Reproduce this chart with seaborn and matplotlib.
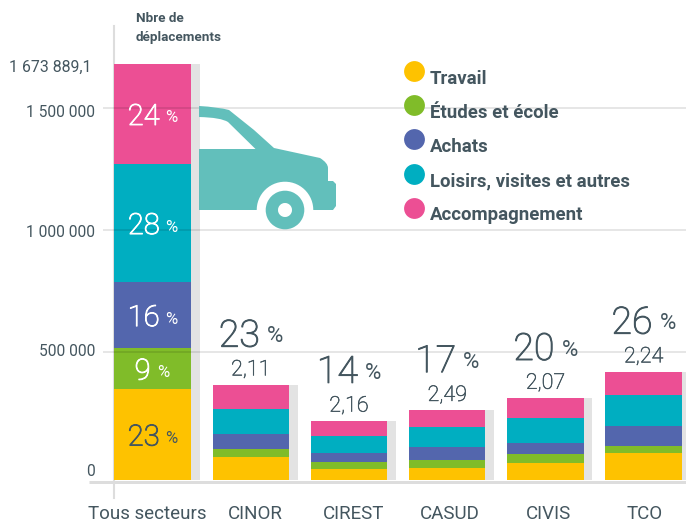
import numpy as np
import matplotlib
matplotlib.use("Agg")
import matplotlib.pyplot as plt
import matplotlib.patheffects as pe
import seaborn as sns
from matplotlib.lines import Line2D
from matplotlib.patches import PathPatch, Wedge
from matplotlib.path import Path
from matplotlib.transforms import Affine2D, ScaledTranslation

sns.set_theme(style="white")
plt.rcParams["font.family"] = ["Roboto", "DejaVu Sans"]

# ---- data ----
sectors = ["Tous secteurs", "CINOR", "CIREST", "CASUD", "CIVIS", "TCO"]
motifs = ["Travail", "Études et école", "Achats", "Loisirs, visites et autres", "Accompagnement"]
travail = [366000, 92600, 44000, 48000, 68000, 109000]
etudes = [165000, 32000, 28000, 32000, 36000, 28000]
achats = [265000, 60000, 36000, 52000, 43000, 80000]
loisirs = [476000, 101000, 70000, 80000, 102000, 124000]
accompagnement = [401889, 97000, 59000, 68000, 80000, 94000]
part_secteur = ["23", "14", "17", "20", "26"]
taux = ["2,11", "2,16", "2,49", "2,07", "2,24"]
part_motif = ["23", "9", "16", "28", "24"]
total_label = "1 673 889,1"
ytick_labels = ["0", "500 000", "1 000 000", "1 500 000"]
ytick_values = [0, 515000, 1006000, 1497000]

# ---- style ----
colors = ["#fec200", "#80bc29", "#5366ad", "#00aec1", "#ec4f94"]
ink = "#44565f"
shadow = "#e3e3e3"
rule = "#dddddd"
car_color = "#62bfbb"
W, H = 686, 523
LEFT, TOP, BOTTOM = 103, 26, 498
ZERO_Y = 480
PX_VALUE = 4024.0
STEP = 98.2
X0 = 152.6

fig = plt.figure(figsize=(W / 100, H / 100), dpi=100, facecolor="white")
ax = fig.add_axes([LEFT / W, (H - BOTTOM) / H, (W - LEFT) / W, (BOTTOM - TOP) / H])
ax.set_facecolor("none")
px = Affine2D().scale(1, -1).translate(0, H)  # figure pixels, y downwards

series = np.array([travail, etudes, achats, loisirs, accompagnement], dtype=float)
cumul = series.cumsum(axis=0)
totals = cumul[-1]
xpos = np.arange(len(sectors))

# shadows behind the bars
ax.bar(xpos + 0.09, totals, width=0.776, color=shadow, zorder=0.5, linewidth=0)

# stacked bars: layers painted from the tallest cumulated value downwards
for i in range(len(motifs) - 1, -1, -1):
    sns.barplot(x=sectors, y=cumul[i], order=sectors, color=colors[i], saturation=1,
                width=0.776, ax=ax, zorder=1, linewidth=0)

ax.set_xlim((LEFT - X0) / STEP, (W - X0) / STEP)
ax.set_ylim((ZERO_Y - BOTTOM) * PX_VALUE, (ZERO_Y - TOP) * PX_VALUE)

for s in ["top", "right", "bottom"]:
    ax.spines[s].set_visible(False)
ax.spines["left"].set_position(("outward", -7.9))
ax.spines["left"].set_color(rule)
ax.spines["left"].set_linewidth(1.5)
ax.spines["left"].set_zorder(0.4)

# grid above the bars, below the car
ax.set_axisbelow(False)
ax.set_yticks(ytick_values[1:])
ax.set_yticklabels(ytick_labels[1:])
ax.yaxis.grid(True, color="black", alpha=0.13, linewidth=1.1)
ax.xaxis.grid(False)
ax.tick_params(axis="y", length=0, pad=13.3, labelsize=11.2, labelcolor=ink)
ax.tick_params(axis="x", length=0, pad=5, labelsize=13.5, labelcolor=ink)
ax.set_xticks(xpos)
ax.set_xticklabels(sectors)
ax.set_xlabel("")
ax.set_ylabel("")

# individual label nudges (pixels)
for lab, dx in zip(ax.get_xticklabels(), [-5, 5, 5, 3, 3, 1]):
    lab.set_transform(lab.get_transform() + ScaledTranslation(dx / 100, 0, fig.dpi_scale_trans))
for lab, dy in zip(ax.get_yticklabels(), [2, -1, -3]):
    lab.set_transform(lab.get_transform() + ScaledTranslation(0, dy / 100, fig.dpi_scale_trans))

# zero label and total label
ax.annotate(ytick_labels[0], (0, 0), xycoords=("axes fraction", "data"), xytext=(-8, 9),
            textcoords="offset pixels", ha="right", va="center", fontsize=11.2, color=ink,
            annotation_clip=False)
ax.annotate(total_label, (0, totals[0]), xycoords=("axes fraction", "data"), xytext=(-11, -3),
            textcoords="offset pixels", ha="right", va="center", fontsize=11.4, color=ink,
            annotation_clip=False)

# baseline
fig.add_artist(Line2D([89, W], [481.5, 481.5], transform=px, color=rule, linewidth=2.16,
                      solid_capstyle="butt", zorder=0.3))


def pct_label(x, y, value, dy, gap_l, gap_r, size, psize, color, zorder=6):
    num = ax.annotate(value, (x, y), xytext=(gap_l, dy), textcoords="offset pixels", ha="right",
                      va="center", fontsize=size, color=color, fontweight="light", zorder=zorder,
                      annotation_clip=False)
    num.set_path_effects([pe.withStroke(linewidth=0.7, foreground=color)])
    ax.annotate("%", (x, y), xytext=(gap_r, dy - 1), textcoords="offset pixels", ha="left",
                va="center", fontsize=psize, color=color, zorder=zorder,
                annotation_clip=False)


# percentages inside the "Tous secteurs" bar
bases = np.vstack([np.zeros(len(sectors)), cumul[:-1]])
for i, val in enumerate(part_motif):
    mid = bases[i, 0] + series[i, 0] / 2
    c = ink if i == 0 else "white"
    pct_label(0, mid, val, -3, 7 if i != 1 else -2, 13 if i != 1 else 5, 21, 12, c)

# share and rate above each sector bar
for j, (p, t) in enumerate(zip(part_secteur, taux), start=1):
    pct_label(j, totals[j], p, 49, 9, 16, 27, 16, ink)
    ax.annotate(t, (j, totals[j]), xytext=(0, 15), textcoords="offset pixels", ha="center",
                va="center", fontsize=15.5, color=ink, fontweight="light", annotation_clip=False,
                path_effects=[pe.withStroke(linewidth=0.4, foreground=ink)])

# header
fig.text(136, 19, "Nbre de", transform=px, fontsize=9.7, fontweight="bold", color=ink, va="center")
fig.text(136, 37, "déplacements", transform=px, fontsize=9.7, fontweight="bold", color=ink, va="center")

# legend
handles = [Line2D([], [], linestyle="none", marker="o", markersize=15, markerfacecolor=c,
                  markeredgewidth=0) for c in colors]
leg = fig.legend(handles, motifs, loc="upper left", bbox_to_anchor=(405 / W, 1 - 63.5 / H), frameon=False,
                 labelcolor=ink, labelspacing=0.87, handletextpad=0.33, handlelength=1,
                 borderaxespad=0, borderpad=0, prop={"weight": "bold", "size": 13.4})
for txt in leg.get_texts():
    txt.set_position((0, -6))

# car, decorative pictogram in figure pixels
arc_t = np.linspace(np.pi, 0, 30)
arc = np.column_stack([285 + 28.3 * np.cos(arc_t), 210 - 28.3 * np.sin(arc_t)])
verts = [(199, 106), (218, 107), (229, 110), (234, 114), (254, 130), (274, 148), (320, 158),
         (328, 163), (328, 168), (328, 181), (333, 181), (336, 184), (336, 206), (333, 210)]
codes = [Path.MOVETO, Path.CURVE3, Path.CURVE3, Path.LINETO, Path.LINETO, Path.LINETO, Path.LINETO,
         Path.CURVE3, Path.CURVE3, Path.LINETO, Path.LINETO, Path.LINETO, Path.LINETO, Path.LINETO]
verts += [tuple(p) for p in arc[::-1]]
codes += [Path.LINETO] * len(arc)
verts += [(199, 210), (199, 149), (255.5, 149), (228, 122), (221, 117.5), (199, 117), (199, 106)]
codes += [Path.LINETO, Path.LINETO, Path.LINETO, Path.LINETO, Path.CURVE3, Path.CURVE3, Path.CLOSEPOLY]
car = PathPatch(Path(verts, codes), facecolor=car_color, edgecolor="none", transform=px, zorder=5)
fig.add_artist(car)
wheel = Wedge((285, 210), 19.3, 0, 360, width=12.3, facecolor=car_color, edgecolor="none",
              transform=px, zorder=5)
fig.add_artist(wheel)

fig.savefig("out.png", dpi=100, facecolor="white")
